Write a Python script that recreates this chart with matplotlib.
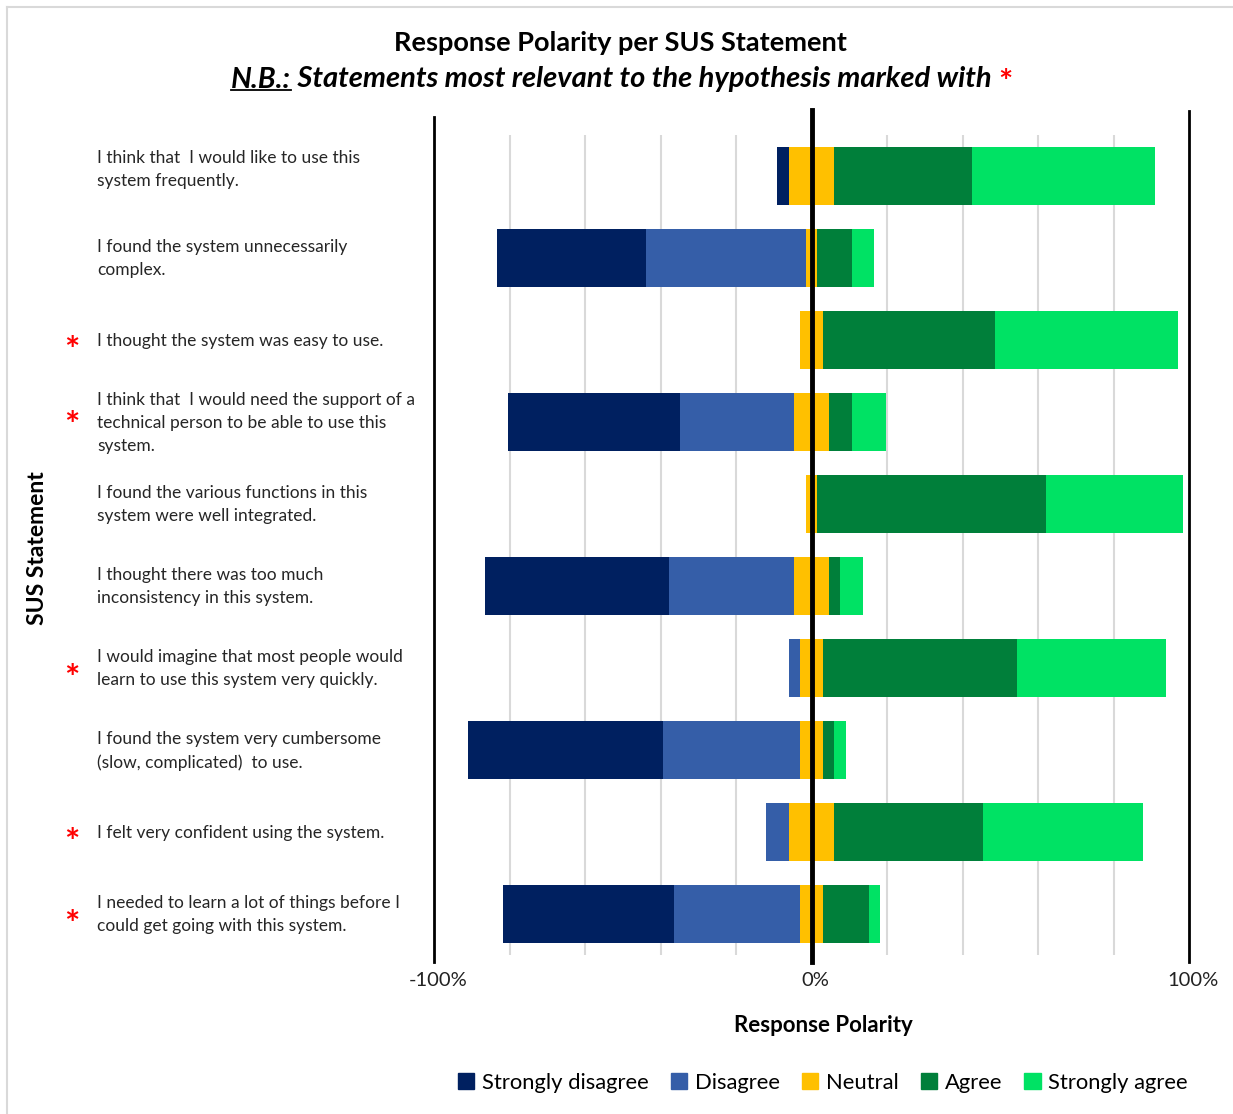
import numpy as np
import matplotlib
matplotlib.use('Agg')
import matplotlib.pyplot as plt
from matplotlib.lines import Line2D
from matplotlib.patches import Patch

plt.rcParams['font.family'] = ['Lato', 'DejaVu Sans']

statements = [
    'I think that  I would like to use this\nsystem frequently.',
    'I found the system unnecessarily\ncomplex.',
    'I thought the system was easy to use.',
    'I think that  I would need the support of a\ntechnical person to be able to use this\nsystem.',
    'I found the various functions in this\nsystem were well integrated.',
    'I thought there was too much\ninconsistency in this system.',
    'I would imagine that most people would\nlearn to use this system very quickly.',
    'I found the system very cumbersome\n(slow, complicated)  to use.',
    'I felt very confident using the system.',
    'I needed to learn a lot of things before I\ncould get going with this system.',
]
relevant = [False, False, True, True, False, False, True, False, True, True]

# response counts per statement (33 respondents)
n_resp = 33
strongly_disagree = [1, 13, 0, 15, 0, 16, 0, 17, 0, 15]
disagree = [0, 14, 0, 10, 0, 11, 1, 12, 2, 11]
neutral = [4, 1, 2, 3, 1, 3, 2, 2, 4, 2]
agree = [12, 3, 15, 2, 20, 1, 17, 1, 13, 4]
strongly_agree = [16, 2, 16, 3, 12, 2, 13, 1, 14, 1]

levels = ['Strongly disagree', 'Disagree', 'Neutral', 'Agree', 'Strongly agree']
colors = ['#002060', '#355EA8', '#FFC000', '#007F3A', '#00E264']

W, H = 1233, 1114
fig = plt.figure(figsize=(W / 100, H / 100), dpi=100)
ax = fig.add_axes([434 / W, 1 - 955 / H, (1189 - 434) / W, (955 - 135) / H])

counts = np.array([strongly_disagree, disagree, neutral, agree, strongly_agree], float)
pct = counts / n_resp * 100
y = np.arange(len(statements))
left = -(pct[0] + pct[1] + pct[2] / 2)
for k in range(5):
    ax.barh(y, pct[k], left=left, height=0.7, color=colors[k], label=levels[k], zorder=3)
    left = left + pct[k]

ax.set_xlim(-100, 100)
ax.set_ylim(len(statements) - 0.5, -0.5)
for s in ax.spines.values():
    s.set_visible(False)
ax.set_yticks([])
ax.set_xticks([-100, 0, 100])
ax.set_xticklabels(['-100%', '0%', '100%'], fontsize=14.5, color='#222222')
ax.tick_params(axis='x', length=0, pad=12)
shift = matplotlib.transforms.ScaledTranslation(4 / 100, 0, fig.dpi_scale_trans)
for lab in ax.get_xticklabels():
    lab.set_transform(lab.get_transform() + shift)

for g in np.arange(-80, 81, 20):
    ax.axvline(g, color='#D9D9D9', lw=1.5, zorder=1)
ax.axvline(-100, ymin=-0.008, ymax=1.022, color='black', lw=2, clip_on=False, zorder=4)
ax.axvline(100, ymin=-0.008, ymax=1.029, color='black', lw=2, clip_on=False, zorder=4)
ax.axvline(0, ymin=-0.008, ymax=1.030, color='black', lw=3.5, clip_on=False, zorder=5)

# statement labels and relevance markers
blend = matplotlib.transforms.blended_transform_factory(fig.transFigure, ax.transData)
nudge = {0: -0.09}
star_nudge = {3: -0.08}
for i, (txt, rel) in enumerate(zip(statements, relevant)):
    ax.text(97 / W, i + 0.01 + nudge.get(i, 0), txt, transform=blend, ha='left', va='center',
            fontsize=12.5, color='#262626', linespacing=1.55)
    if rel:
        ax.text(72 / W, i + 0.14 + star_nudge.get(i, 0), '*', transform=blend, ha='center',
                va='center', fontsize=26, fontweight='bold', color='#FF0000')

fig.text(38 / W, 1 - 548 / H, 'SUS Statement', rotation=90, ha='center', va='center',
         fontsize=16.5, fontweight='bold')
fig.text(823 / W, 1 - 1025 / H, 'Response Polarity', ha='center', va='center',
         fontsize=16, fontweight='bold')

fig.text(620 / W, 1 - 43 / H, 'Response Polarity per SUS Statement', ha='center', va='center',
         fontsize=19.5, fontweight='bold')
t1 = fig.text(231 / W, 1 - 80 / H, 'N.B.:', ha='left', va='center',
              fontsize=21, fontweight='bold', style='italic')
t2 = fig.text(0, 0, ' Statements most relevant to the hypothesis marked with ', ha='left', va='baseline',
              fontsize=21, fontweight='bold', style='italic')
t3 = fig.text(0, 0, '*', ha='left', va='baseline', fontsize=24, fontweight='bold', color='#FF0000')
fig.canvas.draw()
r = fig.canvas.get_renderer()
b1 = t1.get_window_extent(r)
base = b1.y0 + 0.23 * (b1.y1 - b1.y0)
t2.set_position((b1.x1 / W, base / H))
fig.canvas.draw()
b2 = t2.get_window_extent(r)
t3.set_position((b2.x1 / W, (base - 6) / H))
ul_y = base - 3
fig.add_artist(Line2D([b1.x0 / W, b1.x1 / W], [ul_y / H, ul_y / H], color='black', lw=1.3))

handles = [Patch(color=c) for c in colors]
fig.legend(handles, levels, loc='center', bbox_to_anchor=(823 / W, 1 - 1083 / H), ncol=5,
           frameon=False, fontsize=15.8, handlelength=0.75, handleheight=0.75,
           handletextpad=0.35, columnspacing=1.0)

# chart border
fig.add_artist(Line2D([6.5 / W, 6.5 / W], [0, 1 - 6.5 / H], color='#D9D9D9', lw=1.5))
fig.add_artist(Line2D([6.5 / W, 1], [1 - 6.5 / H, 1 - 6.5 / H], color='#D9D9D9', lw=1.5))

fig.savefig('out.png', dpi=100)
